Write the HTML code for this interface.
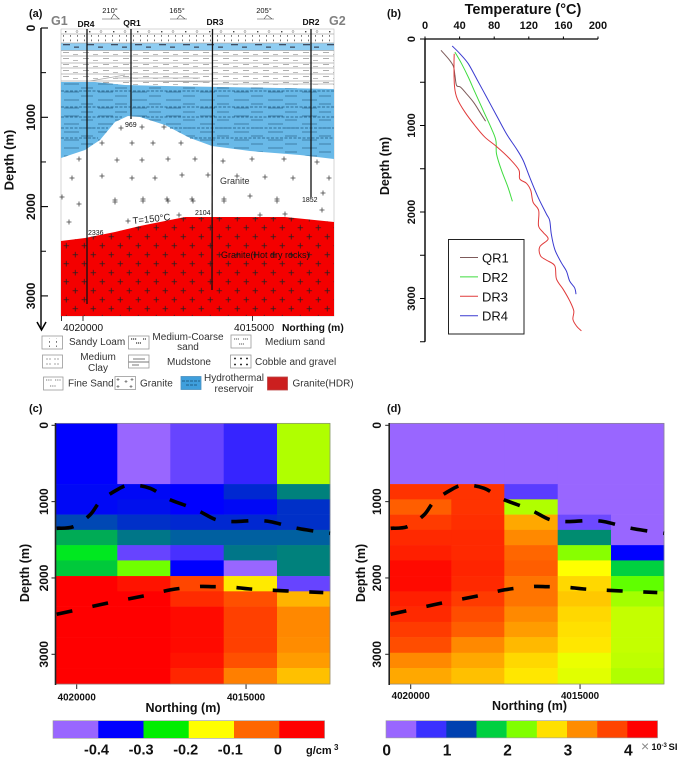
<!DOCTYPE html>
<html lang="en">
<head>
<meta charset="utf-8">
<title>Geothermal section figure</title>
<style>
html,body{margin:0;padding:0;background:#fff;}
svg{display:block;font-family:"Liberation Sans",sans-serif;filter:blur(.35px);}
text{fill:#111;}
.b{font-weight:bold;}
.leg{font-size:10px;fill:#333;}
</style>
</head>
<body>
<svg id="fig" width="685" height="759" viewBox="0 0 685 759" xmlns="http://www.w3.org/2000/svg">
<defs>
  <pattern id="pDots" patternUnits="userSpaceOnUse" x="61" y="29" width="24" height="5"><rect x="4" y="2" width="1.4" height="1.4" fill="#444"/><circle cx="16" cy="2.5" r="1" fill="none" stroke="#777" stroke-width=".5"/></pattern>
  <pattern id="pLoam" patternUnits="userSpaceOnUse" x="61" y="34" width="7" height="4.5"><rect x="2" y="1" width=".9" height="1.8" fill="#666"/></pattern>
  <pattern id="pCoarse" patternUnits="userSpaceOnUse" x="61" y="43" width="24" height="7"><rect x="2" y="1" width="7" height="1.3" fill="#223" opacity=".75"/><rect x="13" y="3.5" width="5" height="1.3" fill="#223" opacity=".75"/></pattern>
  <pattern id="pClay" patternUnits="userSpaceOnUse" x="61" y="50" width="20" height="6"><rect x="2" y="2" width="6" height=".8" fill="#999"/><rect x="12" y="4" width="5" height=".8" fill="#aaa"/></pattern>
  <pattern id="pBlue" patternUnits="userSpaceOnUse" x="61" y="82" width="34" height="8"><rect x="3" y="1.5" width="15" height="1" fill="#3f7fa8"/><rect x="20" y="5.5" width="12" height="1" fill="#3f7fa8"/></pattern>
  <pattern id="pHdr" patternUnits="userSpaceOnUse" x="57.3" y="236.7" width="18" height="18">
    <path d="M6.300 9h5.400M9 6.300v5.400M15.300 0h2.700M0 0h2.700M15.300 18h2.700M0 18h2.700M18 0v2.700M0 0v2.700M18 15.300v2.700M0 15.300v2.700" stroke="#222" stroke-width=".8" fill="none"/>
  </pattern>
</defs>

<!-- Panel (a) -->
<g>
  <text class="b" x="29" y="17" font-size="11">(a)</text>
  <text class="b" x="51" y="25" font-size="12.5" style="fill:#808080">G1</text>
  <text class="b" x="329" y="25" font-size="12.5" style="fill:#808080">G2</text>
  <g font-size="7.5" text-anchor="middle" fill="none">
    <text x="110" y="13">210°</text>
    <path d="M102 19H120M111 19L114 14L119 19" stroke="#444" stroke-width=".6" fill="none"/>
    <text x="177" y="13">165°</text>
    <path d="M170 19H187M177 19L180 15L185 19" stroke="#444" stroke-width=".6" fill="none"/>
    <text x="264" y="13">205°</text>
    <path d="M257 19H274M264 19L267 15L272 19" stroke="#444" stroke-width=".6" fill="none"/>
  </g>
  <g>
    <rect x="61" y="29" width="273" height="287" fill="#fff" stroke="#bbb" stroke-width=".6"/>
    <rect x="61" y="29" width="273" height="5" fill="url(#pDots)"/>
    <rect x="61" y="34" width="273" height="9" fill="url(#pLoam)"/>
    <rect x="61" y="43" width="273" height="7.5" fill="#8fcdf2"/>
    <rect x="61" y="43" width="273" height="7.5" fill="url(#pCoarse)"/>
    <rect x="61" y="50" width="273" height="38" fill="url(#pClay)"/>
    <path d="M61 34H334M61 43H334M61 50.5H334M61 56H334M61 63H334M61 68H334M61 74H334M61 81H334M90 81L125 75M115 78L200 78M125 81L210 82M212 84L334 84" stroke="#aaa" stroke-width=".7" fill="none"/>
    <path d="M61 82L95 82L125 85L165 86L334 89V159L300 155L250 151L212 146L190 138L165 125L140 117L128 116L115 122L100 140L85 150L61 158Z" fill="#69b9e8"/>
    <path d="M61 82L95 82L125 85L165 86L334 89V159L300 155L250 151L212 146L190 138L165 125L140 117L128 116L115 122L100 140L85 150L61 158Z" fill="url(#pBlue)"/>
    <path d="M61 91H334M61 107H334M61 117H122M142 117H334M61 128H108M170 128H334M61 138H98M190 138H334" stroke="#2f6f97" stroke-width="1" stroke-dasharray="3 1.5" fill="none"/>
    <path id="granitePlus" stroke="#444" stroke-width=".8" fill="none"/>
    <path d="M61 241L85 238L115 232L140 226L185 217L212 217L285 217L334 222V316H61Z" fill="#f40000"/>
    <path d="M61 241L85 238L115 232L140 226L185 217L212 217L285 217L334 222V316H61Z" fill="url(#pHdr)"/>
  </g>
  <g stroke="#111" stroke-width="1.3">
    <line x1="87" y1="29" x2="87" y2="304"/>
    <line x1="131" y1="29" x2="131" y2="119"/>
    <line x1="212.500" y1="29" x2="212" y2="290"/>
    <line x1="311" y1="29" x2="311" y2="197"/>
  </g>
  <g class="b" font-size="8.5" text-anchor="middle">
    <text x="86" y="27">DR4</text>
    <text x="132" y="26">QR1</text>
    <text x="215" y="25">DR3</text>
    <text x="311" y="25">DR2</text>
  </g>
  <g font-size="7">
    <text x="125" y="127">969</text>
    <text x="302" y="202">1852</text>
    <text x="195" y="215">2104</text>
    <text x="88" y="235">2336</text>
  </g>
  <text x="220" y="184" font-size="9" style="fill:#333">Granite</text>
  <text x="133" y="224" font-size="9.500" transform="rotate(-6 133 224)" style="fill:#222">T=150°C</text>
  <text x="221" y="258" font-size="9" style="fill:#111">Granite(Hot dry rocks)</text>
  <g>
    <line x1="41" y1="28" x2="41" y2="329" stroke="#000" stroke-width="1.4"/>
    <path d="M37 322L41.500 330L46 322" stroke="#000" stroke-width="1.500" fill="none"/>
    <g id="aTicks"></g>
    <text class="b" x="9" y="160" font-size="13" text-anchor="middle" dominant-baseline="central" transform="rotate(-90 9 160)">Depth (m)</text>
  </g>
  <g>
    <path d="M61.500 316V321M83 316V321M252.500 316V321" stroke="#222" stroke-width=".9"/>
    <text x="63" y="331" font-size="10.300">4020000</text>
    <text x="234" y="331" font-size="10.300">4015000</text>
    <text class="b" x="282" y="331" font-size="10.300">Northing (m)</text>
  </g>
  <g>
    <g stroke="#999" stroke-width=".8">
      <rect x="42" y="336" width="20.500" height="13" fill="#fff"/>
      <rect x="44" y="338" width="17" height="9" fill="url(#pLoam)" stroke="none"/>
      <rect x="128.500" y="336" width="20.500" height="13" fill="#fff"/>
      <path d="M131 339h6M143 339h3M136 343h5" stroke="#333" stroke-width="1.200" stroke-dasharray="1.200 .8"/>
      <rect x="231" y="335" width="20" height="13" fill="#fff"/>
      <path d="M234 339h5M243 339h5M239 344h5" stroke="#555" stroke-width="1" stroke-dasharray="1.200 .8"/>
      <rect x="42.500" y="355" width="20" height="13" fill="#fff"/>
      <path d="M46 359h5M54 359h5M46 364h5M54 364h5" stroke="#888" stroke-width=".8" stroke-dasharray="2 1"/>
      <rect x="128.500" y="355" width="20.500" height="13" fill="#fff"/>
      <path d="M133 359h12M128.500 362h20.500M132 365h7" stroke="#777" stroke-width=".9"/>
      <rect x="230.500" y="355" width="20.500" height="13" fill="#fff"/>
      <path d="M234 358.500h2M240 358.500h2M246 358.500h2M234 364.500h2M240 364.500h2M246 364.500h2" stroke="#333" stroke-width="1.600"/>
      <rect x="43.500" y="377" width="19.500" height="13" fill="#fff"/>
      <path d="M46 380h6M55 380h6M50 386h6" stroke="#777" stroke-width="1" stroke-dasharray="1 .8"/>
      <rect x="115" y="376.500" width="20.500" height="13" fill="#fff"/>
      <path d="M118 378v3M116.500 379.500h3M126 380v3M124.500 381.500h3M132 378v3M130.500 379.500h3M118 385v3M116.500 386.500h3M131 385v3M129.500 386.500h3" stroke="#444" stroke-width=".6"/>
      <rect x="181" y="376.500" width="20" height="13" fill="#3f9fdc" stroke="#4a90c0"/>
      <path d="M182 381h18M186 385h12" stroke="#1f5f8a" stroke-width=".9" stroke-dasharray="3 1"/>
      <rect x="267.500" y="377" width="20" height="13" fill="#cc1f1f" stroke="#b44"/>
    </g>
    <g class="leg">
      <text class="leg" x="69" y="345">Sandy Loam</text>
      <text class="leg" x="188" y="340" text-anchor="middle">Medium-Coarse</text>
      <text class="leg" x="188" y="350" text-anchor="middle">sand</text>
      <text class="leg" x="265" y="345">Medium sand</text>
      <text class="leg" x="98" y="360" text-anchor="middle">Medium</text>
      <text class="leg" x="98" y="371" text-anchor="middle">Clay</text>
      <text class="leg" x="189" y="365" text-anchor="middle">Mudstone</text>
      <text class="leg" x="255" y="365">Cobble and gravel</text>
      <text class="leg" x="68" y="386.500">Fine Sand</text>
      <text class="leg" x="140" y="386.500">Granite</text>
      <text class="leg" x="234" y="381" text-anchor="middle">Hydrothermal</text>
      <text class="leg" x="234" y="392" text-anchor="middle">reservoir</text>
      <text class="leg" x="292.500" y="386.500">Granite(HDR)</text>
    </g>
  </g>
</g>

<!-- Panel (b) -->
<g id="panelB">
  <text class="b" x="387" y="17" font-size="11">(b)</text>
  <text class="b" x="523" y="14" font-size="14.500" text-anchor="middle">Temperature (°C)</text>
  <text class="b" x="385" y="166" font-size="12.500" text-anchor="middle" dominant-baseline="central" transform="rotate(-90 385 166)">Depth (m)</text>
</g>

<!-- Panel (c) -->
<g id="panelC">
  <text class="b" x="29" y="412" font-size="11">(c)</text>
  <text class="b" x="25" y="573" font-size="12.500" text-anchor="middle" dominant-baseline="central" transform="rotate(-90 25 573)">Depth (m)</text>
  <text class="b" x="183" y="712" font-size="12.500" text-anchor="middle">Northing (m)</text>
</g>

<!-- Panel (d) -->
<g id="panelD">
  <text class="b" x="387" y="412" font-size="11">(d)</text>
  <text class="b" x="361" y="573" font-size="12.500" text-anchor="middle" dominant-baseline="central" transform="rotate(-90 361 573)">Depth (m)</text>
  <text class="b" x="529.500" y="710" font-size="12.500" text-anchor="middle">Northing (m)</text>
</g>
</svg>

<script>
// ---- Panel (b) data ----
const tempTicks = [0, 40, 80, 120, 160, 200];
const tempDepthLabels = [0, 1000, 2000, 3000];
const tempDepthMinor = [500, 1500, 2500, 3500];
const seriesNames = ['QR1', 'DR2', 'DR3', 'DR4'];
const seriesColors = ['#7d5a5a', '#3fdc3f', '#e03a3a', '#3a3ad0'];
const qr1Temp = [18.5, 27, 32.7, 34.6, 36.5, 41, 48, 56, 63.5, 70];
const qr1Depth = [131, 228, 313, 421, 537, 556, 633, 730, 846, 950];
const dr2Temp = [34.6, 42.3, 50, 57.7, 67.3, 77, 82, 82.7, 88.5, 96, 101];
const dr2Depth = [151, 286, 440, 614, 826, 1039, 1174, 1328, 1521, 1714, 1876];
const dr3Temp = [33.8, 33.5, 34.2, 37.3, 46.2, 57.7, 69.2, 82.7, 98, 108.5, 109.6, 117.3, 122.3, 125, 131.5, 131.2, 136.5, 142.3, 132.7, 133.5, 140.4, 150, 152, 159.6, 167.3, 172, 171, 175, 180.8];
const dr3Depth = [170, 324, 556, 691, 846, 1000, 1135, 1243, 1386, 1514, 1618, 1668, 1753, 1888, 1985, 2158, 2235, 2313, 2402, 2506, 2556, 2622, 2776, 2892, 3027, 3143, 3239, 3317, 3375];
const dr4Temp = [31.5, 40.4, 50, 59.6, 71.2, 82.7, 94.2, 105.8, 113.5, 121, 130.8, 140.4, 144.2, 146, 150, 157.7, 163.5, 167.3, 173, 174.6];
const dr4Depth = [81, 170, 286, 459, 672, 884, 1097, 1270, 1405, 1598, 1830, 2023, 2100, 2255, 2432, 2587, 2683, 2799, 2876, 2950];

// ---- Panels (c), (d) data ----
const depthEdges = [-26, 770, 970, 1170, 1370, 1570, 1770, 1975, 2175, 2375, 2575, 2775, 2980, 3180, 3390];
const northingEdges = [4020620, 4018801, 4017236, 4015660, 4014086, 4012521];
const sectionDepthLabels = [0, 1000, 2000, 3000];
const sectionNorthingLabels = [4020000, 4015000];
const densityRows = [
  [-0.35, -0.45, -0.41, -0.38, -0.20],
  [-0.345, -0.345, -0.35, -0.325, -0.285],
  [-0.345, -0.34, -0.35, -0.345, -0.32],
  [-0.31, -0.32, -0.325, -0.325, -0.32],
  [-0.27, -0.29, -0.30, -0.30, -0.30],
  [-0.25, -0.41, -0.39, -0.29, -0.285],
  [-0.26, -0.22, -0.35, -0.45, -0.285],
  [0.05, 0.03, -0.02, -0.14, -0.41],
  [0.05, 0.05, 0.005, -0.03, -0.115],
  [0.05, 0.05, 0.04, -0.015, -0.09],
  [0.05, 0.05, 0.04, -0.015, -0.09],
  [0.05, 0.05, 0.04, -0.015, -0.095],
  [0.05, 0.05, 0.03, -0.03, -0.105],
  [0.05, 0.05, 0.01, -0.08, -0.12]
];
const susceptibilityRows = [
  [0, 0, 0, 0, 0],
  [3.8, 3.8, 0.5, 0, 0],
  [3.55, 3.8, 2.2, 0, 0],
  [3.75, 3.85, 3.1, 0.35, 0],
  [3.9, 3.9, 3.25, 1.3, 0],
  [4.0, 3.9, 3.5, 2.05, 0.75],
  [4.2, 3.95, 3.55, 2.6, 1.6],
  [4.2, 3.9, 3.4, 2.85, 1.9],
  [4.0, 3.75, 3.4, 2.95, 2.15],
  [3.9, 3.65, 3.25, 2.85, 2.3],
  [3.75, 3.55, 3.15, 2.8, 2.3],
  [3.65, 3.25, 3.03, 2.75, 2.3],
  [3.25, 3.1, 2.85, 2.5, 2.27],
  [3.1, 3.0, 2.75, 2.45, 2.2]
];
const densityStopValues = [-0.45, -0.40, -0.35, -0.32, -0.30, -0.28, -0.25, -0.22, -0.20, -0.15, -0.12, -0.10, -0.05, 0, 0.05];
const densityStopColors = ['#9966ff', '#5a3cff', '#0000ff', '#0030c8', '#0060a0', '#008c70', '#00e820', '#70ff00', '#b0ff00', '#ffff00', '#ffc000', '#ff9000', '#ff6600', '#ff3000', '#ff0000'];
const magStopValues = [0, 0.5, 0.75, 1.1, 1.3, 1.6, 1.9, 2.2, 2.6, 3, 3.2, 3.5, 3.8, 4.3];
const magStopColors = ['#9966ff', '#5a3cff', '#0000ff', '#0040b0', '#008c70', '#00d040', '#60ff00', '#b0ff00', '#ffff00', '#ffc000', '#ff9000', '#ff6600', '#ff3300', '#ff0000'];
const reservoirTopNorthing = [4020590, 4020100, 4019610, 4019310, 4018820, 4018430, 4017830, 4017340, 4016750, 4016360, 4015870, 4015370, 4014780, 4014290, 4013700, 4013210, 4012520];
const reservoirTopDepth = [1349, 1328, 1175, 1000, 847, 782, 825, 956, 1057, 1131, 1240, 1262, 1249, 1262, 1328, 1371, 1415];
const hdrTopNorthing = [4020590, 4019114, 4018030, 4017240, 4016460, 4015960, 4015370, 4014880, 4013800, 4012720];
const hdrTopDepth = [2476, 2332, 2236, 2157, 2114, 2114, 2122, 2144, 2170, 2192];
const densityBarColors = ['#9966ff', '#0000ff', '#00ee00', '#ffff00', '#ff6600', '#ff0000'];
const densityBarLabels = ['-0.4', '-0.3', '-0.2', '-0.1', '0'];
const magBarColors = ['#9966ff', '#3a30ff', '#0040b0', '#00d040', '#80ff00', '#ffe000', '#ff8c00', '#ff4400', '#ff0000'];
const magBarLabels = ['0', '1', '2', '3', '4'];

// ---- Panel (a) axis and schematic data ----
const sectionAxisMajor = [0, 1000, 2000, 3000];
const sectionAxisMinor = [500, 1500, 2500];
const granitePlusX = [79,117,142,168,195,223,252,284,317,72,102,132,155,182,208,237,265,293,329,102,132,153,181,121,142,164,62,115,143,167,192,224,250,277,323,79,115,143,168,193,224,277,322,69,128,179,260,285];
const granitePlusY = [159,160,160,159,159,161,159,159,162,178,176,178,178,175,175,176,177,178,178,143,143,143,143,128,127,127,197,200,199,199,199,199,196,199,193,204,202,201,201,201,201,201,210,222,221,215,215,214];

const NS = 'http://www.w3.org/2000/svg';
function mk(tag, attrs, parent) {
  const e = document.createElementNS(NS, tag);
  for (const k in attrs) e.setAttribute(k, attrs[k]);
  parent.appendChild(e);
  return e;
}
function hex(c) { return [1, 3, 5].map(i => parseInt(c.substr(i, 2), 16)); }
function colorOf(v, values, colors) {
  if (v <= values[0]) return colors[0];
  const n = values.length - 1;
  if (v >= values[n]) return colors[n];
  for (let i = 0; i < n; i++) {
    if (v <= values[i + 1]) {
      const t = (v - values[i]) / (values[i + 1] - values[i]);
      const a = hex(colors[i]), b = hex(colors[i + 1]);
      return 'rgb(' + a.map((x, j) => Math.round(x + (b[j] - x) * t)).join(',') + ')';
    }
  }
  return colors[n];
}
function smoothPath(xs, ys) {
  let d = 'M' + xs[0].toFixed(1) + ' ' + ys[0].toFixed(1);
  for (let i = 0; i < xs.length - 1; i++) {
    const p0 = Math.max(i - 1, 0), p3 = Math.min(i + 2, xs.length - 1);
    const c1x = xs[i] + (xs[i + 1] - xs[p0]) / 6, c1y = ys[i] + (ys[i + 1] - ys[p0]) / 6;
    const c2x = xs[i + 1] - (xs[p3] - xs[i]) / 6, c2y = ys[i + 1] - (ys[p3] - ys[i]) / 6;
    d += 'C' + c1x.toFixed(1) + ' ' + c1y.toFixed(1) + ' ' + c2x.toFixed(1) + ' ' + c2y.toFixed(1) + ' ' + xs[i + 1].toFixed(1) + ' ' + ys[i + 1].toFixed(1);
  }
  return d;
}
function rotLabel(parent, x, y, str, size, name) {
  const t = mk('text', {x: x, y: y, 'font-size': size, 'font-weight': 'bold', 'text-anchor': 'middle', 'dominant-baseline': 'central', transform: 'rotate(-90 ' + x + ' ' + y + ')'}, parent);
  
  
  t.textContent = str;
  return t;
}

// Panel (a) axis
const aY = d => 28 + d * 0.0893;
const aTicks = document.getElementById('aTicks');
sectionAxisMajor.forEach(d => {
  const l = mk('line', {x1: 41, x2: 48, y1: aY(d), y2: aY(d), stroke: '#000', 'stroke-width': 1.1}, aTicks);
  
  
  rotLabel(aTicks, 31, aY(d), String(d), 12, 'section-depth-tick-label');
});
sectionAxisMinor.forEach(d => {
  const l = mk('line', {x1: 41, x2: 46, y1: aY(d), y2: aY(d), stroke: '#000', 'stroke-width': 1}, aTicks);
  
  
});
document.getElementById('granitePlus').setAttribute('d', granitePlusX.map((x, i) => 'M' + (x - 2.5) + ' ' + granitePlusY[i] + 'h5M' + x + ' ' + (granitePlusY[i] - 2.5) + 'v5').join(''));

// Panel (b)
const bX = t => 425 + t * 0.865;
const bY = d => 39 + d * 0.0865;
const pb = document.getElementById('panelB');
const bAxisX = mk('line', {x1: bX(0), x2: bX(200), y1: bY(0), y2: bY(0), stroke: '#000', 'stroke-width': 1.2}, pb);


const bAxisY = mk('line', {x1: bX(0), x2: bX(0), y1: bY(0), y2: bY(3500), stroke: '#000', 'stroke-width': 1.4}, pb);


tempTicks.forEach(t => {
  const l = mk('line', {x1: bX(t), x2: bX(t), y1: bY(0) - 2.5, y2: bY(0), stroke: '#000', 'stroke-width': 1}, pb);
  
  
  const s = mk('text', {x: bX(t), y: 29, 'font-size': 11, 'font-weight': 'bold', 'text-anchor': 'middle'}, pb);
  
  
  s.textContent = t;
});
tempDepthLabels.forEach(d => {
  const l = mk('line', {x1: bX(0) - 5, x2: bX(0), y1: bY(d), y2: bY(d), stroke: '#000', 'stroke-width': 1}, pb);
  
  
  rotLabel(pb, 412, bY(d), String(d), 11, 'temperature-depth-tick-label');
});
tempDepthMinor.forEach(d => {
  const l = mk('line', {x1: bX(0) - 5, x2: bX(0), y1: bY(d), y2: bY(d), stroke: '#000', 'stroke-width': 1}, pb);
  
  
});
const seriesT = [qr1Temp, dr2Temp, dr3Temp, dr4Temp];
const seriesD = [qr1Depth, dr2Depth, dr3Depth, dr4Depth];
[0, 1, 3, 2].forEach(i => {
  const p = mk('path', {d: smoothPath(seriesT[i].map(bX), seriesD[i].map(bY)), fill: 'none', stroke: seriesColors[i], 'stroke-width': 1, 'stroke-linejoin': 'round'}, pb);
  
  
});
const box = mk('rect', {x: 448.5, y: 239.5, width: 75.5, height: 94.5, fill: 'none', stroke: '#222', 'stroke-width': 1}, pb);


seriesNames.forEach((n, i) => {
  const y = 257.5 + i * 19.4;
  const l = mk('line', {x1: 460, x2: 478, y1: y, y2: y, stroke: seriesColors[i], 'stroke-width': 1}, pb);
  
  
  const s = mk('text', {x: 482, y: y + 5, 'font-size': 13}, pb);
  
  
  s.textContent = n;
});

// Panels (c), (d)
function section(parent, x0, rows, values, colors, labelX, axisX, tickBase, dashPrefix) {
  const X = n => x0 + (4020000 - n) * 0.03387;
  const Y = d => 425.3 + d * 0.07633;
  rows.forEach((row, r) => row.forEach((v, c) => {
    const rect = mk('rect', {x: X(northingEdges[c]), y: Y(depthEdges[r]), width: X(northingEdges[c + 1]) - X(northingEdges[c]) + 0.3, height: Y(depthEdges[r + 1]) - Y(depthEdges[r]) + 0.3, fill: colorOf(v, values, colors)}, parent);
    
    
  }));
  const right = X(northingEdges[5]);
  const frame = mk('rect', {x: axisX, y: Y(depthEdges[0]), width: right - axisX, height: Y(depthEdges[14]) - Y(depthEdges[0]), fill: 'none', stroke: '#888', 'stroke-width': 0.7}, parent);
  
  
  const yAxis = mk('line', {x1: axisX, x2: axisX, y1: 423, y2: 685, stroke: '#222', 'stroke-width': 1.6}, parent);
  
  
  sectionDepthLabels.forEach(d => {
    const l = mk('line', {x1: axisX - 4, x2: axisX, y1: Y(d), y2: Y(d), stroke: '#222', 'stroke-width': 1}, parent);
    
    
    rotLabel(parent, labelX, Y(d), String(d), 12, dashPrefix + '-depth-tick-label');
  });
  sectionNorthingLabels.forEach(n => {
    const l = mk('line', {x1: X(n), x2: X(n), y1: 684.5, y2: 689, stroke: '#222', 'stroke-width': 1}, parent);
    
    
    const s = mk('text', {x: X(n), y: tickBase, 'font-size': 9.8, 'font-weight': 'bold', 'text-anchor': 'middle'}, parent);
    
    
    s.textContent = n;
  });
  const top = mk('path', {d: smoothPath(reservoirTopNorthing.map(X), reservoirTopDepth.map(Y)), fill: 'none', stroke: '#000', 'stroke-width': 3.6, 'stroke-dasharray': '17 16'}, parent);
  
  
  const hdr = mk('path', {d: smoothPath(hdrTopNorthing.map(X), hdrTopDepth.map(Y)), fill: 'none', stroke: '#000', 'stroke-width': 3.6, 'stroke-dasharray': '16 20.5'}, parent);
  
  
}
function colorbar(parent, x, w, y, h, colors, name) {
  const step = w / colors.length;
  colors.forEach((c, i) => {
    const r = mk('rect', {x: x + i * step, y: y, width: step + 0.2, height: h, fill: c}, parent);
    
    
  });
  const o = mk('rect', {x: x, y: y, width: w, height: h, fill: 'none', stroke: '#999', 'stroke-width': 0.6}, parent);
  
  
}
const pc = document.getElementById('panelC');
const pd = document.getElementById('panelD');
section(pc, 76.7, densityRows, densityStopValues, densityStopColors, 44, 55.5, 700.5, 'density');
section(pd, 410.7, susceptibilityRows, magStopValues, magStopColors, 377, 389.2, 699, 'susceptibility');
colorbar(pc, 53, 271.5, 720.7, 17.6, densityBarColors, 'density-colorbar');
colorbar(pd, 386, 271.5, 720.7, 17.2, magBarColors, 'susceptibility-colorbar');
densityBarLabels.forEach((s, i) => {
  const t = mk('text', {x: 96.5 + i * 44.6 + (i === 4 ? 3 : 0), y: 754.5, 'font-size': 14.5, 'font-weight': 'bold', 'text-anchor': 'middle'}, pc);
  
  
  t.textContent = s;
});
const dUnit = mk('text', {x: 306, y: 754, 'font-size': 11, 'font-weight': 'bold'}, pc);


dUnit.textContent = 'g/cm';
const dSup = mk('text', {x: 334, y: 750, 'font-size': 8, 'font-weight': 'bold'}, pc);


dSup.textContent = '3';
magBarLabels.forEach((s, i) => {
  const t = mk('text', {x: 386.7 + i * 60.4, y: 755.5, 'font-size': 15.5, 'font-weight': 'bold', 'text-anchor': 'middle'}, pd);
  
  
  t.textContent = s;
});
const sx = mk('text', {x: 641, y: 751, 'font-size': 14, style: 'fill:#888'}, pd);


sx.textContent = '×';
const s1 = mk('text', {x: 651.5, y: 750, 'font-size': 9, 'font-weight': 'bold'}, pd);


s1.textContent = '10';
const s2 = mk('text', {x: 661.5, y: 747, 'font-size': 6, 'font-weight': 'bold'}, pd);


s2.textContent = '-3';
const s3 = mk('text', {x: 668.5, y: 750, 'font-size': 9.5, 'font-weight': 'bold'}, pd);


s3.textContent = 'SI';
</script>
</body>
</html>
